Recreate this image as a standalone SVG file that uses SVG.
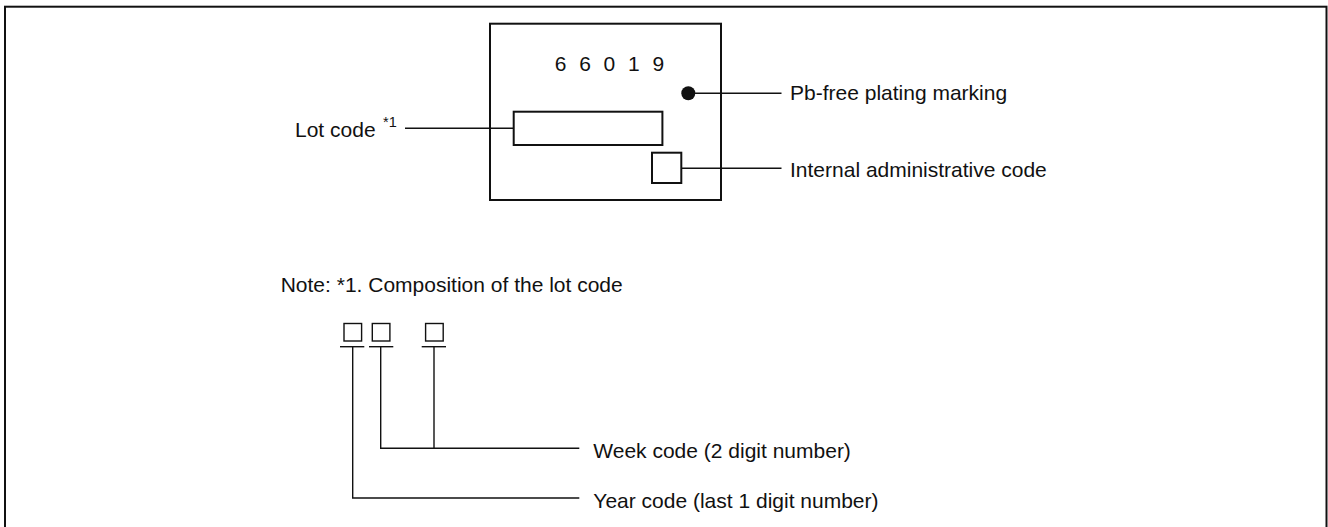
<svg xmlns="http://www.w3.org/2000/svg" width="1328" height="527" viewBox="0 0 1328 527">
<style>
.t{font-family:"Liberation Sans",Arial,sans-serif;font-size:21px;fill:#111}
.thick{fill:none;stroke:#111;stroke-width:2}
.thin{fill:none;stroke:#111;stroke-width:1.4}
</style>
<rect width="1328" height="527" fill="#fff"/>
<rect x="5" y="6.7" width="1321.5" height="540" class="thick"/>
<g id="chip">
<rect x="490" y="23.7" width="231" height="176.3" class="thick"/>
<text class="t" x="554.8 579.2 603.6 628 652.4" y="71">66019</text>
</g>
<g id="pb-dot"><circle cx="688.3" cy="93.3" r="7" fill="#111"/></g>
<g id="lot-box"><rect x="513.7" y="111.7" width="148.7" height="33.3" class="thick"/></g>
<g id="admin-box"><rect x="652" y="152.7" width="29.3" height="30.3" class="thick"/></g>
<g id="label-lot"><text class="t" x="295" y="136.7">Lot code</text><text class="t" x="383" y="127.3" style="font-size:14.5px">*1</text></g>
<g id="label-pb"><text class="t" x="790" y="100">Pb-free plating marking</text></g>
<g id="label-admin"><text class="t" x="790" y="176.7">Internal administrative code</text></g>
<g id="note"><text class="t" x="280.7" y="291.7">Note: *1. Composition of the lot code</text></g>
<g id="digit-boxes">
<rect x="344" y="323.5" width="17.6" height="17.5" class="thin"/>
<rect x="372.3" y="323.5" width="17.6" height="17.5" class="thin"/>
<rect x="425.6" y="323.5" width="17.6" height="17.5" class="thin"/>
</g>
<g id="label-week"><text class="t" x="593.3" y="458.3">Week code (2 digit number)</text></g>
<g id="label-year"><text class="t" x="593.3" y="508.3">Year code (last 1 digit number)</text></g>
<g id="connectors">
<line x1="405" y1="128.3" x2="513.7" y2="128.3" class="thin"/>
<line x1="688.3" y1="93.3" x2="781.5" y2="93.3" class="thin"/>
<line x1="681.3" y1="168.3" x2="781.5" y2="168.3" class="thin"/>
<line x1="340" y1="346.7" x2="364.3" y2="346.7" class="thin"/>
<line x1="369" y1="346.7" x2="393.3" y2="346.7" class="thin"/>
<line x1="421.7" y1="346.7" x2="446" y2="346.7" class="thin"/>
<polyline points="352.7,346.7 352.7,498 579.3,498" class="thin"/>
<polyline points="380.7,346.7 380.7,448.3 579.3,448.3" class="thin"/>
<line x1="434" y1="346.7" x2="434" y2="448.3" class="thin"/>
</g>
</svg>
